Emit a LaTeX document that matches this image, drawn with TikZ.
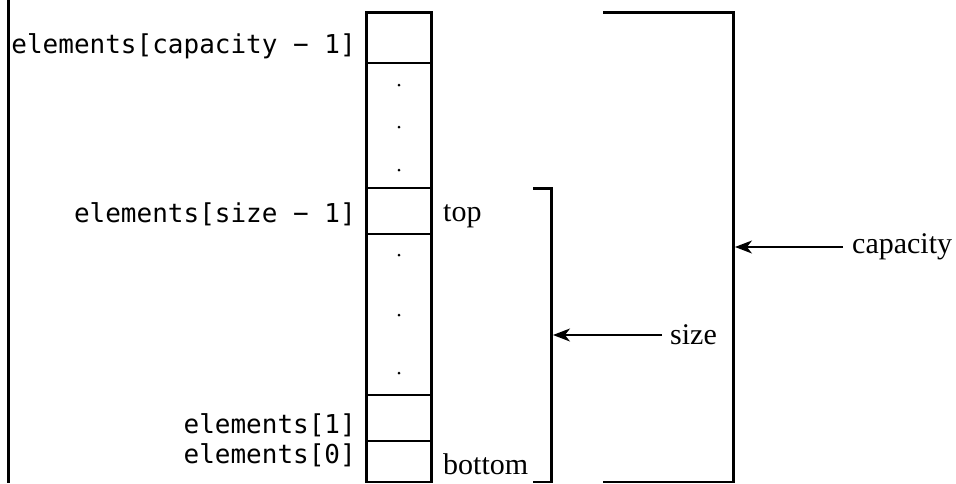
\documentclass[tikz,border=0pt]{standalone}
\usepackage{fontspec}
\setmainfont{Liberation Serif}
\setmonofont{DejaVu Sans Mono}
\usetikzlibrary{arrows.meta}
\begin{document}
\begin{tikzpicture}[x=1pt,y=-1pt,
  cell/.style={draw, line width=2.3pt, minimum width=65pt, inner sep=0pt},
  lbl/.style={font=\fontsize{26}{26}\selectfont\ttfamily, anchor=base east, inner sep=0pt},
  side/.style={font=\fontsize{30}{30}\selectfont, inner sep=0pt},
  brk/.style={line width=2.5pt},
  arr/.style={line width=1.2pt, -{Stealth[length=17pt,width=13pt,inset=5pt]}},
  dotm/.style={circle, fill, inner sep=0pt, minimum size=3pt}]
\useasboundingbox (0,0) rectangle (956,483);
% left border line
\draw[line width=3pt] (8,0) -- (8,483);
% array cells
\node[cell, minimum height=50.5pt] (c5) at (399,37.75) {};
\node[cell, minimum height=125pt]  (c4) at (399,125.5) {};
\node[cell, minimum height=46pt]   (c3) at (399,211) {};
\node[cell, minimum height=161pt]  (c2) at (399,314.5) {};
\node[cell, minimum height=46pt]   (c1) at (399,418) {};
\node[cell, minimum height=41pt]   (c0) at (399,461.5) {};
% dots
\node[dotm] (d1) at (399,85) {};
\node[dotm] (d2) at (399,127) {};
\node[dotm] (d3) at (399,170) {};
\node[dotm] (d4) at (399,255) {};
\node[dotm] (d5) at (399,315) {};
\node[dotm] (d6) at (399,373) {};
% labels
\node[lbl] (l5) at (356,53) {elements[capacity − 1]};
\node[lbl] (l3) at (356,222) {elements[size − 1]};
\node[lbl] (l1) at (356,433) {elements[1]};
\node[lbl] (l0) at (356,463) {elements[0]};
\node[side, anchor=base west] (top) at (443,221) {top};
\node[side, anchor=base west] (bot) at (443,474) {bottom};
% brackets
\coordinate (sT) at (533,188.3);
\coordinate (sB) at (533,482);
\coordinate (sR) at (553,335);
\draw[brk] (sT) -| (551.5,482) -- (sB);
\coordinate (cT) at (603,12.5);
\coordinate (cB) at (603,482);
\coordinate (cR) at (735,247);
\draw[brk] (cT) -| (733.5,482) -- (cB);
% side texts and arrows
\node[side, anchor=west] (size) at (670,335) {size};
\node[side, anchor=west] (cap) at (852,247) {capacity};
\draw[arr] ([xshift=-8pt]size.west) -- (size.west -| sR);
\draw[arr] ([xshift=-9pt]cap.west) -- (cap.west -| cR);
\end{tikzpicture}
\end{document}
